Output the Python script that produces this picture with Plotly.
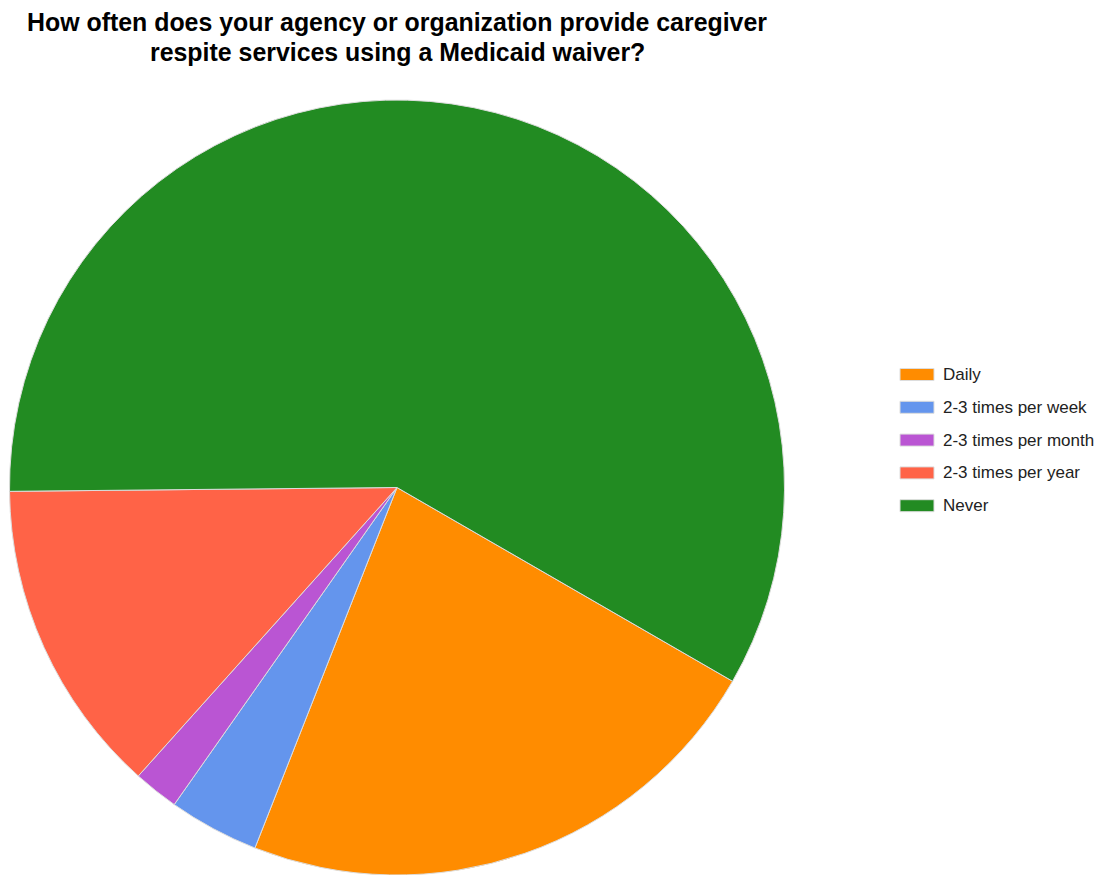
import plotly.graph_objects as go

labels = ["Daily", "2-3 times per week", "2-3 times per month", "2-3 times per year", "Never"]
values = [12, 2, 1, 7, 31]
colors = ["#FF8C00", "#6495ED", "#BA55D3", "#FF6347", "#228B22"]
title_lines = ["How often does your agency or organization provide caregiver",
               "respite services using a Medicaid waiver?"]

W, H = 1100, 875
FONT = "Arial, Liberation Sans, sans-serif"

def px_x(x):
    return x / W

def px_y(y):
    return 1 - y / H

fig = go.Figure(go.Pie(
    labels=labels, values=values, sort=False, direction="clockwise", rotation=120,
    marker=dict(colors=colors, line=dict(color="#dddddd", width=1)),
    textinfo="none", hoverinfo="label+value+percent",
    domain=dict(x=[px_x(8), px_x(786)], y=[0, px_y(100)]),
    showlegend=False,
))

# Title lines
for i, t in enumerate(title_lines):
    fig.add_annotation(text="<b>" + t + "</b>", x=px_x(397), y=px_y(22 + 30 * i),
                       xref="paper", yref="paper", xanchor="center", yanchor="middle",
                       showarrow=False, font=dict(family=FONT, size=24.9, color="#000000"))

# Legend (built from labels/colors)
y0, dy = 374.5, 32.8
for i, (lab, col) in enumerate(zip(labels, colors)):
    yc = y0 + dy * i
    fig.add_shape(type="rect", xref="paper", yref="paper",
                  x0=px_x(900), x1=px_x(934), y0=px_y(yc - 6), y1=px_y(yc + 6),
                  fillcolor=col, line=dict(color="#dddddd", width=1))
    fig.add_annotation(text=lab, x=px_x(941), y=px_y(yc), xref="paper", yref="paper",
                       xanchor="left", yanchor="middle", showarrow=False,
                       font=dict(family=FONT, size=17, color="#222222"))

fig.update_layout(width=W, height=H, margin=dict(l=0, r=0, t=0, b=0),
                  paper_bgcolor="white", plot_bgcolor="white")
fig.write_html("out.html", config={"displayModeBar": False},
               post_script="document.body.style.margin='0';document.body.style.overflow='hidden';")
